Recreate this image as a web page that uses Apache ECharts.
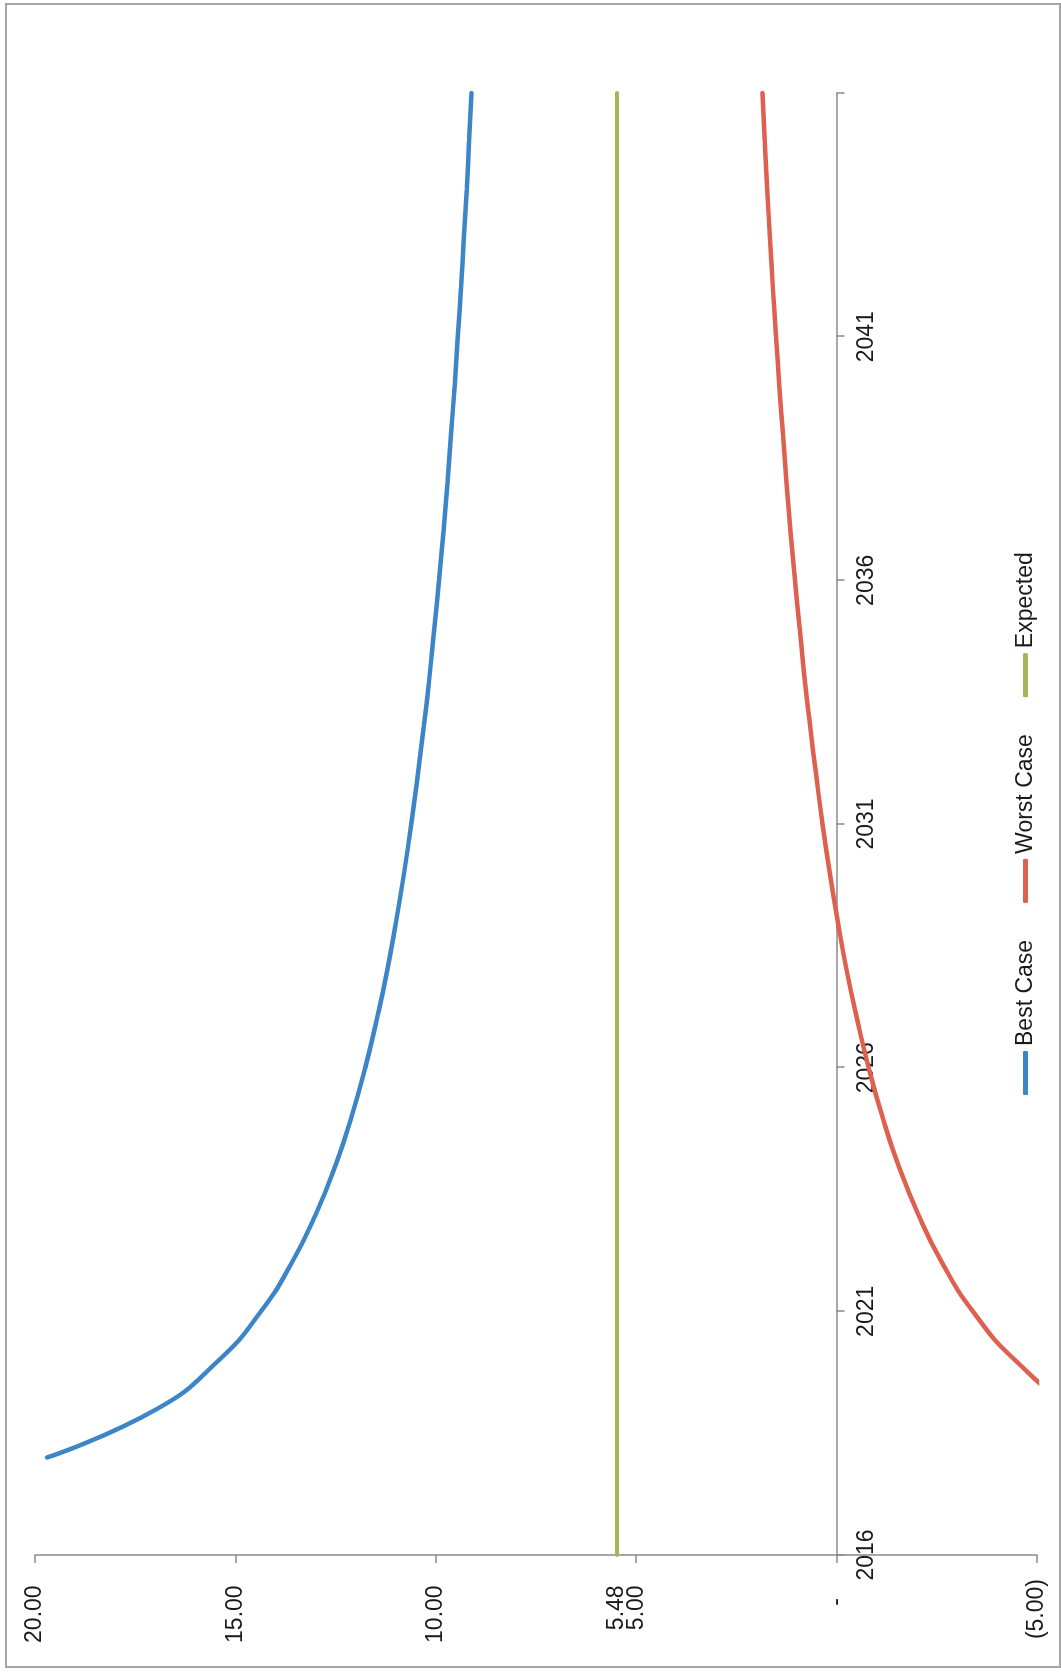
<!DOCTYPE html>
<html>
<head>
<meta charset="utf-8">
<script src="https://cdn.jsdelivr.net/npm/echarts@6/dist/echarts.min.js"></script>
<style>
html,body{margin:0;padding:0;background:#fff;}
#wrap{position:relative;width:1061px;height:1673px;overflow:hidden;background:#fff;}
#chart{position:absolute;left:0;top:0;width:1673px;height:1061px;transform-origin:0 0;transform:translate(0,1673px) rotate(-90deg);}
#frame{position:absolute;left:5px;top:3px;width:1052px;height:1661px;border:2px solid #a6a6a6;pointer-events:none;}
</style>
</head>
<body>
<div id="wrap"><div id="chart"></div><div id="frame"></div></div>
<script>
const years = ['2016','2017','2018','2019','2020','2021','2022','2023','2024','2025','2026','2027','2028','2029','2030','2031','2032','2033','2034','2035','2036','2037','2038','2039','2040','2041','2042','2043','2044','2045','2046'];
const bestCase = [null, null, 19.70, 16.95, 15.41, 14.36, 13.59, 12.99, 12.50, 12.10, 11.76, 11.47, 11.21, 10.99, 10.79, 10.61, 10.45, 10.30, 10.16, 10.04, 9.92, 9.81, 9.71, 9.62, 9.53, 9.45, 9.37, 9.30, 9.23, 9.17, 9.11];
const worstCase = [null, null, -8.56, -5.99, -4.45, -3.40, -2.63, -2.03, -1.54, -1.14, -0.80, -0.51, -0.25, -0.03, 0.17, 0.35, 0.51, 0.66, 0.80, 0.92, 1.04, 1.15, 1.25, 1.34, 1.43, 1.51, 1.59, 1.66, 1.73, 1.79, 1.85];
const expected = [5.48, 5.48, 5.48, 5.48, 5.48, 5.48, 5.48, 5.48, 5.48, 5.48, 5.48, 5.48, 5.48, 5.48, 5.48, 5.48, 5.48, 5.48, 5.48, 5.48, 5.48, 5.48, 5.48, 5.48, 5.48, 5.48, 5.48, 5.48, 5.48, 5.48, 5.48];
const valueTicks = [-5, 0, 5, 10, 15, 20];
const expectedLabel = [5.48];
const seriesNames = ['Best Case', 'Worst Case', 'Expected'];

const FONT = 'Liberation Sans';
const GRID_TOP = 35, GRID_BOTTOM = 24, CHART_H = 1061;
const fmt = v => {
  if (Math.abs(v) < 1e-9) return '-   ';
  if (v < 0) return '(' + Math.abs(v).toFixed(2) + ')';
  return v.toFixed(2) + ' ';
};
// pixel distance from grid bottom (value min) up to value 0, for placing the category axis where it crosses 0
const vMin = valueTicks[0], vMax = valueTicks[valueTicks.length - 1];
const plotH = CHART_H - GRID_TOP - GRID_BOTTOM;
const zeroOffset = (0 - vMin) / (vMax - vMin) * plotH;

const chart = echarts.init(document.getElementById('chart'), null, {renderer: 'canvas'});
chart.setOption({
  backgroundColor: '#fff',
  animation: false,
  textStyle: {fontFamily: FONT},
  legend: {
    data: seriesNames,
    left: 573,
    top: 1009,
    icon: 'roundRect',
    itemWidth: 44,
    itemHeight: 5,
    itemGap: 37,
    textStyle: {fontFamily: FONT, fontSize: 23, color: '#1a1a1a'}
  },
  grid: {left: 118, right: 93, top: GRID_TOP, bottom: GRID_BOTTOM, outerBoundsMode: 'none', containLabel: false},
  xAxis: {
    type: 'category',
    data: years,
    boundaryGap: false,
    position: 'bottom',
    offset: -zeroOffset,
    axisLine: {onZero: false, lineStyle: {color: '#8a8a8a', width: 1.5}},
    axisTick: {show: true, length: 8, inside: false, interval: (i) => i % 5 === 0, lineStyle: {color: '#8a8a8a', width: 1.5}},
    axisLabel: {interval: (i) => i % 5 === 0 && i < 30, margin: 19, fontFamily: FONT, fontSize: 23, color: '#1a1a1a', hideOverlap: false},
    splitLine: {show: false}
  },
  yAxis: [{
    type: 'value',
    min: vMin,
    max: vMax,
    interval: 5,
    position: 'left',
    axisLine: {show: true, onZero: false, lineStyle: {color: '#8a8a8a', width: 1.5}},
    axisTick: {show: true, length: 8, lineStyle: {color: '#8a8a8a', width: 1.5}},
    axisLabel: {margin: 24, formatter: fmt, fontFamily: FONT, fontSize: 23, color: '#1a1a1a'},
    splitLine: {show: false}
  }, {
    type: 'value',
    min: vMin,
    max: vMax,
    position: 'left',
    axisLine: {show: false},
    axisTick: {show: false},
    splitLine: {show: false},
    axisLabel: {show: true, customValues: expectedLabel, margin: 24, formatter: v => v.toFixed(2) + ' ', fontFamily: FONT, fontSize: 23, color: '#1a1a1a'}
  }],
  series: [
    {name: seriesNames[0], type: 'line', data: bestCase, symbol: 'none', smooth: 0.5, lineStyle: {color: '#3c85c6', width: 4.5, cap: 'round'}, itemStyle: {color: '#3c85c6'}, z: 3},
    {name: seriesNames[1], type: 'line', data: worstCase, symbol: 'none', smooth: 0.5, lineStyle: {color: '#de604e', width: 4.5, cap: 'round'}, itemStyle: {color: '#de604e'}, z: 3},
    {name: seriesNames[2], type: 'line', data: expected, symbol: 'none', lineStyle: {color: '#a2b657', width: 4, cap: 'round'}, itemStyle: {color: '#a2b657'}, z: 3}
  ]
});
</script>
</body>
</html>
